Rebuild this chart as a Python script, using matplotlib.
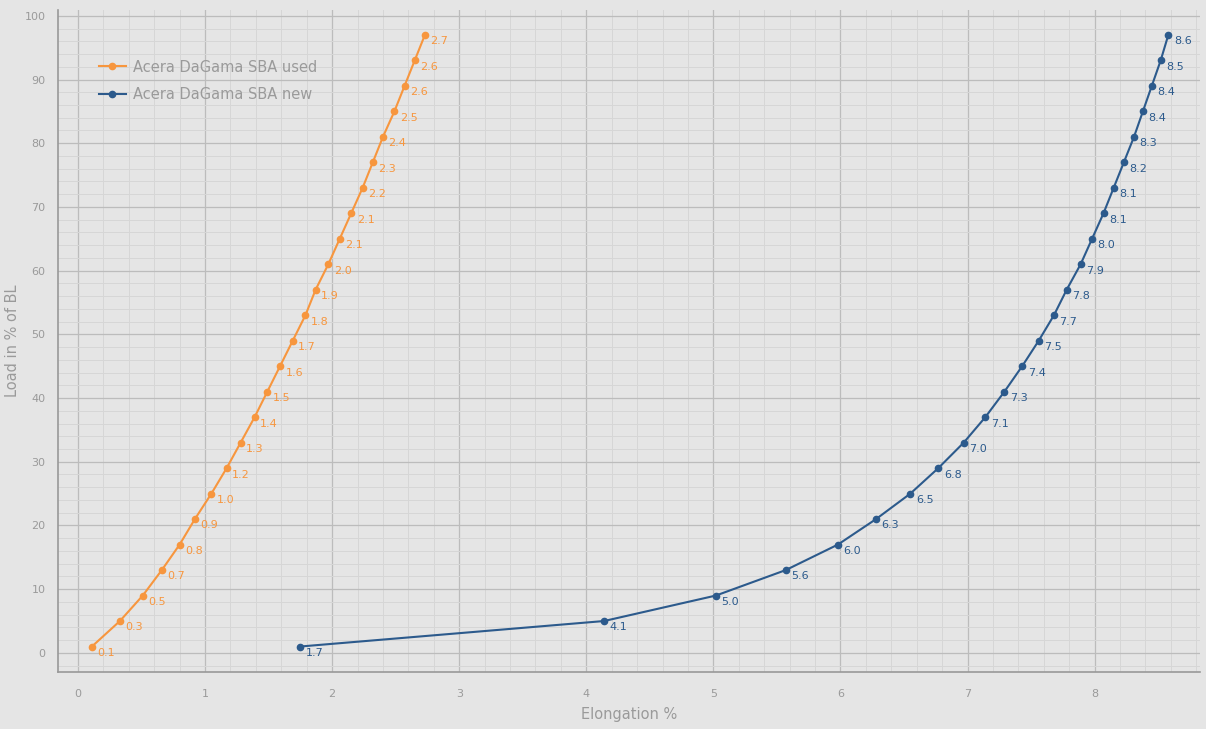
import matplotlib
matplotlib.use("Agg")
import matplotlib.pyplot as plt
from matplotlib.ticker import MultipleLocator

loads = [1, 5, 9, 13, 17, 21, 25, 29, 33, 37, 41, 45, 49, 53, 57, 61, 65, 69, 73, 77, 81, 85, 89, 93, 97]
used_x = [0.11, 0.33, 0.51, 0.66, 0.80, 0.92, 1.05, 1.17, 1.28, 1.39, 1.49, 1.59, 1.69, 1.79, 1.87,
          1.97, 2.06, 2.15, 2.24, 2.32, 2.40, 2.49, 2.57, 2.65, 2.73]
used_lbl = ["0.1", "0.3", "0.5", "0.7", "0.8", "0.9", "1.0", "1.2", "1.3", "1.4", "1.5", "1.6", "1.7",
            "1.8", "1.9", "2.0", "2.1", "2.1", "2.2", "2.3", "2.4", "2.5", "2.6", "2.6", "2.7"]
new_x = [1.75, 4.14, 5.02, 5.57, 5.98, 6.28, 6.55, 6.77, 6.97, 7.14, 7.29, 7.43, 7.56, 7.68, 7.78,
         7.89, 7.98, 8.07, 8.15, 8.23, 8.31, 8.38, 8.45, 8.52, 8.58]
new_lbl = ["1.7", "4.1", "5.0", "5.6", "6.0", "6.3", "6.5", "6.8", "7.0", "7.1", "7.3", "7.4", "7.5",
           "7.7", "7.8", "7.9", "8.0", "8.1", "8.1", "8.2", "8.3", "8.4", "8.4", "8.5", "8.6"]

ORANGE = "#F7963E"
BLUE = "#2C5A8C"
BG = "#E5E5E5"
GRAY = "#9A9A9A"

plt.rcParams['font.family'] = ['DejaVu Sans']
fig = plt.figure(figsize=(12.06, 7.29), dpi=100, facecolor=BG)
ax = fig.add_axes([0.0481, 0.0782, 0.947, 0.908])
ax.set_facecolor(BG)

ax.set_xlim(-0.157, 8.83)
ax.set_ylim(-3, 100.9)
ax.xaxis.set_major_locator(MultipleLocator(1))
ax.xaxis.set_minor_locator(MultipleLocator(0.2))
ax.yaxis.set_major_locator(MultipleLocator(10))
ax.yaxis.set_minor_locator(MultipleLocator(2))
ax.grid(which='major', color='#BCBCBC', linewidth=0.9)
ax.grid(which='minor', color='#D6D6D6', linewidth=0.7)
ax.set_axisbelow(True)
for s in ['top', 'right']:
    ax.spines[s].set_visible(False)
for s in ['left', 'bottom']:
    ax.spines[s].set_color('#999999')
    ax.spines[s].set_linewidth(1.2)
ax.tick_params(which='both', length=0, colors=GRAY, labelsize=8)
ax.tick_params(axis='x', pad=12)
ax.tick_params(axis='y', pad=9)

ax.plot(used_x, loads, color=ORANGE, lw=1.5, marker='o', ms=4.5, label='Acera DaGama SBA used')
ax.plot(new_x, loads, color=BLUE, lw=1.5, marker='o', ms=4.5, label='Acera DaGama SBA new')
for x, y, t in zip(used_x, loads, used_lbl):
    ax.annotate(t, (x, y), xytext=(4, -1), textcoords='offset points', color=ORANGE,
                fontsize=8, ha='left', va='top')
for x, y, t in zip(new_x, loads, new_lbl):
    ax.annotate(t, (x, y), xytext=(4, -1), textcoords='offset points', color=BLUE,
                fontsize=8, ha='left', va='top')

ax.set_xlabel('Elongation %', color=GRAY, fontsize=10.5, labelpad=6)
ax.set_ylabel('Load in % of BL', color=GRAY, fontsize=10.5)
ax.yaxis.set_label_coords(-0.033, 0.5)

leg = ax.legend(loc='upper left', bbox_to_anchor=(0.024, 0.945), frameon=False, fontsize=10.5,
                handlelength=1.9, handletextpad=0.45, labelspacing=0.85)
for t in leg.get_texts():
    t.set_color(GRAY)

fig.savefig('out.png', dpi=100, facecolor=BG)
